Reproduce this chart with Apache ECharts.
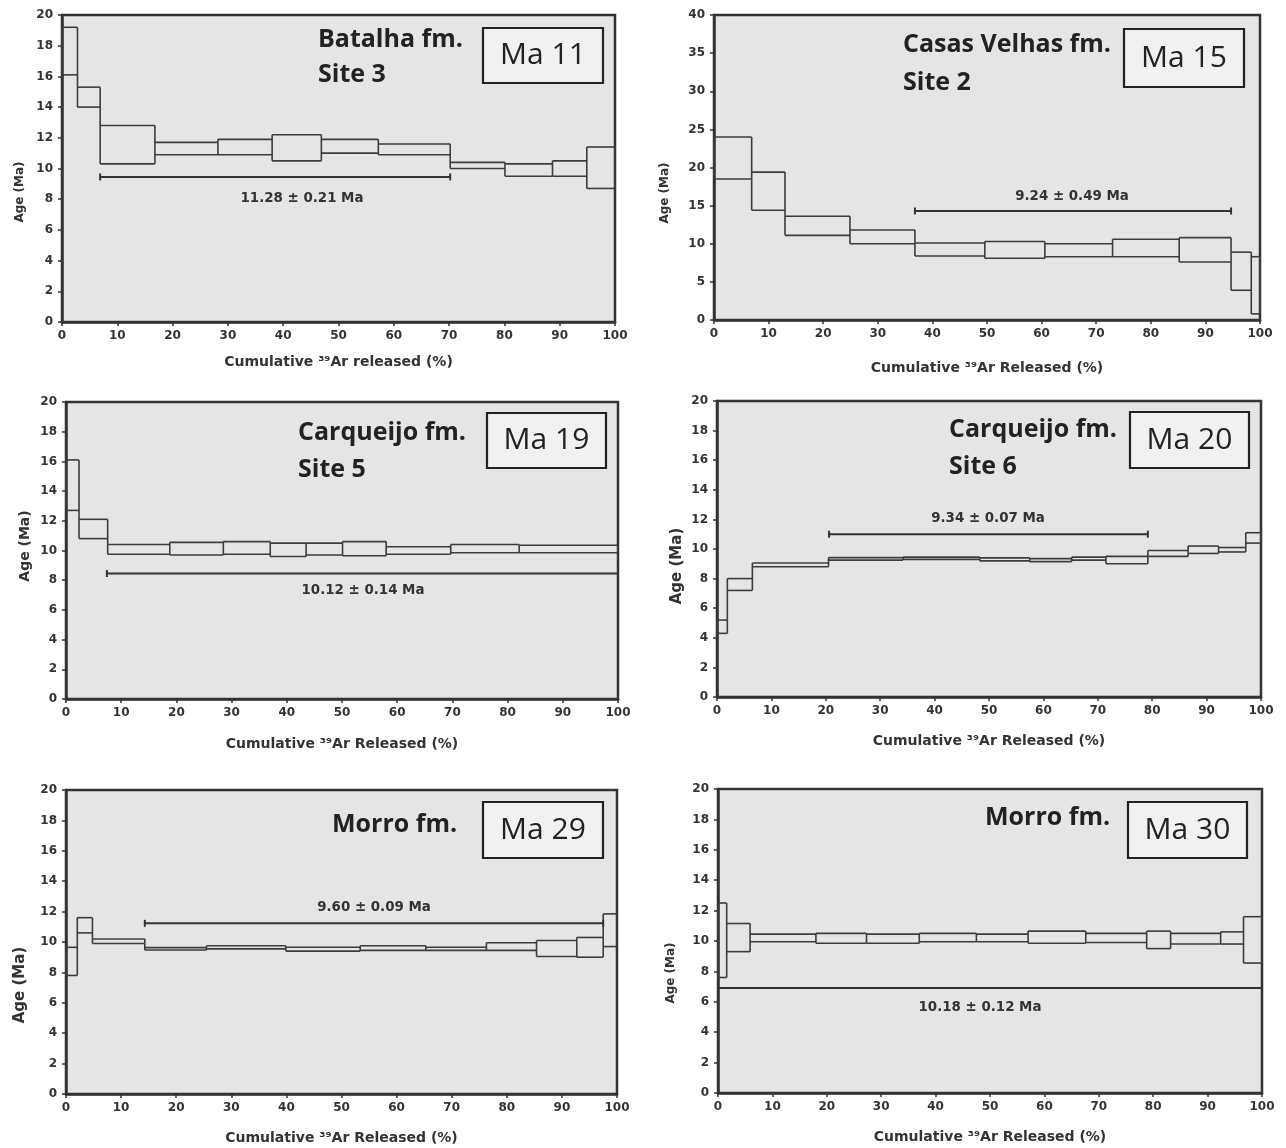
<!DOCTYPE html>
<html>
<head>
<meta charset="utf-8">
<script src="https://cdn.jsdelivr.net/npm/echarts@6/dist/echarts.min.js"></script>
<style>
html,body{margin:0;padding:0;background:#fff;}
#c{width:1286px;height:1148px;}
</style>
</head>
<body>
<div id="c"></div>
<script>
// ---- DATA: step boxes [x0, x1, ageLow, ageHigh] ----
const steps1 = [[0,2.8,16.1,19.2],[2.8,6.9,14.0,15.3],[6.9,16.8,10.3,12.8],[16.8,28.2,10.9,11.7],[28.2,38.0,10.9,11.9],[38.0,46.9,10.5,12.2],[46.9,57.2,11.0,11.9],[57.2,70.2,10.9,11.6],[70.2,80.1,10.0,10.4],[80.1,88.7,9.5,10.3],[88.7,94.9,9.5,10.5],[94.9,100,8.7,11.4]];
const steps2 = [[0,6.9,18.5,24.0],[6.9,13.0,14.4,19.4],[13.0,24.9,11.1,13.6],[24.9,36.8,10.0,11.8],[36.8,49.6,8.4,10.1],[49.6,60.6,8.1,10.3],[60.6,73.0,8.3,10.0],[73.0,85.2,8.3,10.6],[85.2,94.7,7.6,10.8],[94.7,98.4,3.9,8.9],[98.4,100,0.8,8.3]];
const steps3 = [[0,2.36,12.7,16.1],[2.36,7.55,10.8,12.1],[7.55,18.8,9.75,10.4],[18.8,28.5,9.7,10.55],[28.5,37.0,9.75,10.6],[37.0,43.5,9.6,10.5],[43.5,50.1,9.7,10.5],[50.1,58.0,9.65,10.6],[58.0,69.7,9.75,10.25],[69.7,82.1,9.85,10.4],[82.1,100,9.85,10.35]];
const steps4 = [[0,1.9,4.3,5.2],[1.9,6.5,7.2,8.0],[6.5,20.5,8.8,9.05],[20.5,34.2,9.25,9.42],[34.2,48.3,9.3,9.45],[48.3,57.5,9.2,9.4],[57.5,65.2,9.15,9.35],[65.2,71.5,9.25,9.45],[71.5,79.2,9.0,9.5],[79.2,86.6,9.5,9.9],[86.6,92.2,9.7,10.2],[92.2,97.2,9.8,10.1],[97.2,100,10.4,11.1]];
const steps5 = [[0,2.05,7.8,9.65],[2.05,4.8,10.6,11.6],[4.8,14.3,9.9,10.2],[14.3,25.5,9.47,9.63],[25.5,39.9,9.55,9.75],[39.9,53.4,9.4,9.65],[53.4,65.3,9.45,9.75],[65.3,76.3,9.45,9.65],[76.3,85.4,9.45,9.95],[85.4,92.7,9.05,10.1],[92.7,97.5,9.0,10.3],[97.5,100,9.7,11.85]];
const steps6 = [[0,1.6,7.6,12.5],[1.6,5.9,9.3,11.15],[5.9,18.0,9.95,10.45],[18.0,27.3,9.85,10.5],[27.3,37.0,9.85,10.45],[37.0,47.5,9.95,10.5],[47.5,57.0,9.95,10.45],[57.0,67.6,9.85,10.65],[67.6,78.8,9.9,10.5],[78.8,83.2,9.5,10.65],[83.2,92.4,9.8,10.5],[92.4,96.6,9.8,10.6],[96.6,100,8.55,11.6]];

// ---- plateau bars [x0, x1, y] ----
const plateau1 = [6.9, 70.2, 9.45];
const plateau2 = [36.8, 94.7, 14.3];
const plateau3 = [7.4, 100, 8.45];
const plateau4 = [20.6, 79.2, 11.0];
const plateau5 = [14.3, 97.5, 11.23];
const plateau6 = [0, 100, 6.9];

const plateauLabels = ['11.28 ± 0.21 Ma','9.24 ± 0.49 Ma','10.12 ± 0.14 Ma','9.34 ± 0.07 Ma','9.60 ± 0.09 Ma','10.18 ± 0.12 Ma'];
const formations = [['Batalha fm.','Site 3'],['Casas Velhas fm.','Site 2'],['Carqueijo fm.','Site 5'],['Carqueijo fm.','Site 6'],['Morro fm.'],['Morro fm.']];
const sampleIds = ['Ma 11','Ma 15','Ma 19','Ma 20','Ma 29','Ma 30'];
const xNames = ['Cumulative ³⁹Ar released (%)','Cumulative ³⁹Ar Released (%)','Cumulative ³⁹Ar Released (%)','Cumulative ³⁹Ar Released (%)','Cumulative ³⁹Ar Released (%)','Cumulative ³⁹Ar Released (%)'];
const yName = 'Age (Ma)';
const yMax = [20, 40, 20, 20, 20, 20];
const yStep = [2, 5, 2, 2, 2, 2];

const allSteps = [steps1, steps2, steps3, steps4, steps5, steps6];
const allPlateaus = [plateau1, plateau2, plateau3, plateau4, plateau5, plateau6];

// ---- layout (pixels) ----
const grids = [
  {left:62, top:15, width:553, height:307},
  {left:714, top:15, width:546, height:305},
  {left:66, top:402, width:552, height:297},
  {left:717, top:401, width:544, height:296},
  {left:66, top:790, width:551, height:304},
  {left:718, top:789, width:544, height:304}
];
const xNameGap = [33, 41, 38, 37, 37, 37];
const yNamePos = [[20,192,12],[665,193,12],[25,546,14],[677,566,15],[20,985,15],[671,973,12]];
const fmPos = [[318,40,75],[903,45,83],[298,433,470],[949,430,467],[332,825],[985,818]];
const idBox = [[483,28,120,55],[1124,29,120,58],[487,413,119,55],[1130,412,119,56],[483,802,120,56],[1128,802,119,56]];
const plabPos = [[302,199],[1072,197],[363,591],[988,519],[374,908],[980,1008]];

const DARK = '#333';
const STEP = '#3c3c3c';
const tickFont = {fontFamily:'DejaVu Sans', fontWeight:'bold', fontSize:12, color:'#333'};

function makeBoxRender(data){
  return function(params, api){
    const i = params.dataIndex;
    const lo = api.value(2), hi = api.value(3);
    const a = api.coord([api.value(0), hi]);
    const b = api.coord([api.value(1), lo]);
    const children = [
      {type:'line', shape:{x1:a[0], y1:a[1], x2:b[0], y2:a[1]}, style:{stroke:STEP, lineWidth:1.6}},
      {type:'line', shape:{x1:a[0], y1:b[1], x2:b[0], y2:b[1]}, style:{stroke:STEP, lineWidth:1.6}}
    ];
    if (i === 0) {
      children.push({type:'line', shape:{x1:a[0], y1:a[1], x2:a[0], y2:b[1]}, style:{stroke:STEP, lineWidth:1.6}});
    }
    let vLo = lo, vHi = hi;
    if (i < data.length - 1) {
      const n = data[i+1];
      vLo = Math.min(lo, n[2]);
      vHi = Math.max(hi, n[3]);
    }
    const c1 = api.coord([api.value(1), vHi]);
    const c2 = api.coord([api.value(1), vLo]);
    children.push({type:'line', shape:{x1:c1[0], y1:c1[1], x2:c2[0], y2:c2[1]}, style:{stroke:STEP, lineWidth:1.6}});
    return {type:'group', children:children};
  };
}
function plateauRender(params, api){
  const a = api.coord([api.value(0), api.value(2)]);
  const b = api.coord([api.value(1), api.value(2)]);
  const cap = 3.5;
  return {type:'group', children:[
    {type:'line', shape:{x1:a[0], y1:a[1], x2:b[0], y2:b[1]}, style:{stroke:DARK, lineWidth:2}},
    {type:'line', shape:{x1:a[0], y1:a[1]-cap, x2:a[0], y2:a[1]+cap}, style:{stroke:DARK, lineWidth:2}},
    {type:'line', shape:{x1:b[0], y1:b[1]-cap, x2:b[0], y2:b[1]+cap}, style:{stroke:DARK, lineWidth:2}}
  ]};
}

const option = {animation:false, backgroundColor:'#fff', grid:[], xAxis:[], yAxis:[], series:[], graphic:[]};

for (let i=0;i<6;i++){
  option.grid.push(Object.assign({show:true, backgroundColor:'#e5e5e5', borderColor:DARK, borderWidth:2.5, containLabel:false}, grids[i]));
  option.xAxis.push({type:'value', gridIndex:i, min:0, max:100, interval:10,
    name:xNames[i], nameLocation:'middle', nameGap:xNameGap[i],
    nameTextStyle:{fontFamily:'DejaVu Sans', fontWeight:'bold', fontSize:14, color:'#333'},
    axisLine:{show:true, onZero:false, lineStyle:{color:DARK, width:2.5}},
    axisTick:{show:true, inside:false, length:4, lineStyle:{color:DARK, width:1.5}},
    axisLabel:Object.assign({margin:8}, tickFont),
    splitLine:{show:false}});
  option.yAxis.push({type:'value', gridIndex:i, min:0, max:yMax[i], interval:yStep[i],
    axisLine:{show:true, onZero:false, lineStyle:{color:DARK, width:2.5}},
    axisTick:{show:true, inside:false, length:4, lineStyle:{color:DARK, width:1.5}},
    axisLabel:Object.assign({margin:9}, tickFont),
    splitLine:{show:false}});
  option.series.push({type:'custom', xAxisIndex:i, yAxisIndex:i, renderItem:makeBoxRender(allSteps[i]),
    encode:{x:[0,1], y:[2,3]}, data:allSteps[i], silent:true});
  option.series.push({type:'custom', xAxisIndex:i, yAxisIndex:i, renderItem:plateauRender,
    encode:{x:[0,1], y:2}, data:[allPlateaus[i]], silent:true});

  const yp = yNamePos[i];
  option.graphic.push({type:'text', x:yp[0], y:yp[1], rotation:Math.PI/2,
    style:{text:yName, align:'center', verticalAlign:'middle', fontFamily:'DejaVu Sans', fontWeight:'bold', fontSize:yp[2], fill:'#333'}});
  const fp = fmPos[i];
  const fm = formations[i];
  option.graphic.push({type:'text', x:fp[0], y:fp[1],
    style:{text:fm[0], align:'left', verticalAlign:'middle', fontFamily:'Open Sans', fontWeight:'bold', fontSize:25, fill:'#222'}});
  if (fm[1]) option.graphic.push({type:'text', x:fp[0], y:fp[2],
    style:{text:fm[1], align:'left', verticalAlign:'middle', fontFamily:'Open Sans', fontWeight:'bold', fontSize:25, fill:'#222'}});
  const ib = idBox[i];
  option.graphic.push({type:'rect', shape:{x:ib[0], y:ib[1], width:ib[2], height:ib[3]},
    style:{fill:'#f1f1f1', stroke:'#222', lineWidth:2.2}});
  option.graphic.push({type:'text', x:ib[0]+ib[2]/2, y:ib[1]+ib[3]/2,
    style:{text:sampleIds[i], align:'center', verticalAlign:'middle', fontFamily:'Open Sans', fontSize:30, fill:'#222'}});
  const pl = plabPos[i];
  option.graphic.push({type:'text', x:pl[0], y:pl[1],
    style:{text:plateauLabels[i], align:'center', verticalAlign:'middle', fontFamily:'DejaVu Sans', fontWeight:'bold', fontSize:13.4, fill:'#333'}});
}

const chart = echarts.init(document.getElementById('c'), null, {renderer:'canvas'});
chart.setOption(option);
</script>
</body>
</html>
